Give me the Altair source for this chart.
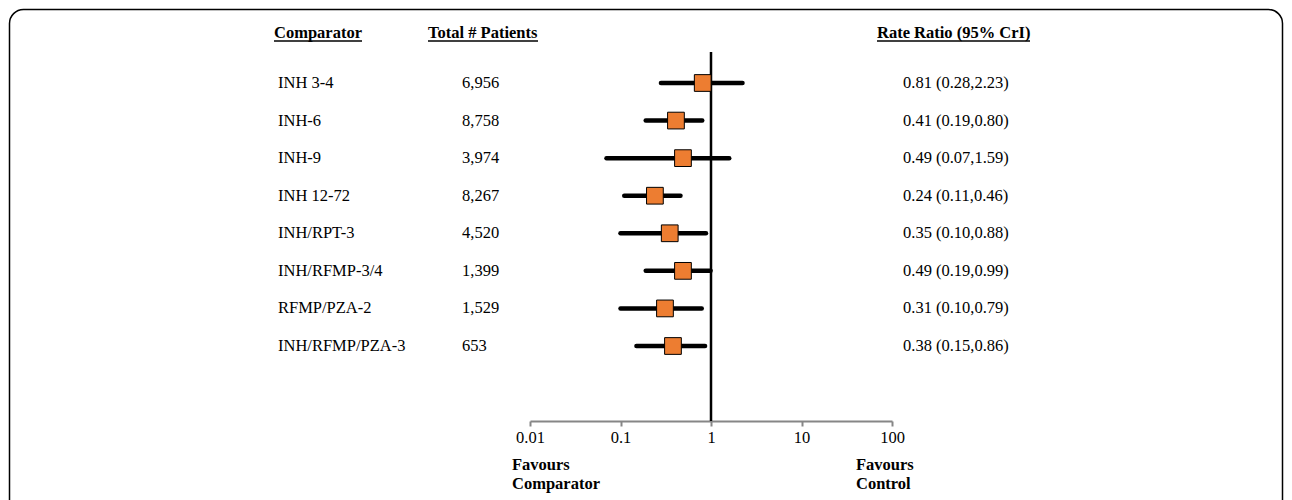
import altair as alt
import pandas as pd

comparators = ["INH 3-4", "INH-6", "INH-9", "INH 12-72", "INH/RPT-3",
               "INH/RFMP-3/4", "RFMP/PZA-2", "INH/RFMP/PZA-3"]
patients = ["6,956", "8,758", "3,974", "8,267", "4,520", "1,399", "1,529", "653"]
rate_ratio = [0.81, 0.41, 0.49, 0.24, 0.35, 0.49, 0.31, 0.38]
cri_low = [0.28, 0.19, 0.07, 0.11, 0.10, 0.19, 0.10, 0.15]
cri_high = [2.23, 0.80, 1.59, 0.46, 0.88, 0.99, 0.79, 0.86]
x_ticks = [0.01, 0.1, 1, 10, 100]

df = pd.DataFrame({
    "comparator": comparators,
    "patients": patients,
    "rr": rate_ratio,
    "lo": cri_low,
    "hi": cri_high,
})
df["label"] = [f"{r:.2f} ({l:.2f},{h:.2f})" for r, l, h in zip(rate_ratio, cri_low, cri_high)]

FONT = "Liberation Serif"
FS = 16.5

xscale = alt.Scale(type="log", domain=[0.01, 100], range=[522, 884])
yenc = alt.Y("comparator:N", sort=comparators,
             scale=alt.Scale(type="point", domain=comparators, range=[75, 338], padding=0),
             axis=None)

base = alt.Chart(df)

ci = base.mark_rule(color="black", strokeWidth=4.5, strokeCap="round").encode(
    x=alt.X("lo:Q", scale=xscale,
            axis=alt.Axis(values=x_ticks, format="~g", title=None, grid=False,
                          offset=-79, domainColor="#868686", domainWidth=2,
                          tickColor="#868686", tickWidth=2, tickSize=5,
                          labelFont=FONT, labelFontSize=FS, labelColor="black",
                          labelPadding=3, labelFlush=False)),
    x2="hi:Q",
    y=yenc,
)

null_line = alt.Chart(pd.DataFrame({"v": [1]})).mark_rule(color="black", strokeWidth=2.5).encode(
    x=alt.X("v:Q", scale=xscale),
    y=alt.value(44),
    y2=alt.value(413),
)

squares = base.mark_square(size=280, color="#ED7D31", opacity=1, stroke="black",
                           strokeWidth=1).encode(
    x=alt.X("rr:Q", scale=xscale),
    y=yenc,
)

txt_kw = dict(font=FONT, fontSize=FS, align="left", baseline="middle", color="black")
names = base.mark_text(**txt_kw).encode(x=alt.value(270), y=yenc, text="comparator:N")
pats = base.mark_text(**txt_kw).encode(x=alt.value(454), y=yenc, text="patients:N")
rates = base.mark_text(**txt_kw).encode(x=alt.value(895), y=yenc, text="label:N")

headers = [("Comparator", 266, 354), ("Total # Patients", 420, 530), ("Rate Ratio (95% CrI)", 869, 1022)]
one = pd.DataFrame({"k": [0]})
header_layers = []
for text, x0, x1 in headers:
    header_layers.append(
        alt.Chart(one).mark_text(font=FONT, fontSize=FS, fontWeight="bold", align="left",
                                 baseline="alphabetic", color="black", text=text)
        .encode(x=alt.value(x0), y=alt.value(30))
    )
    header_layers.append(
        alt.Chart(one).mark_rule(color="black", strokeWidth=1.5)
        .encode(x=alt.value(x0), x2=alt.value(x1), y=alt.value(33))
    )

favours = []
for text, x0 in [("Favours\nComparator", 504), ("Favours\nControl", 848)]:
    favours.append(
        alt.Chart(one).mark_text(font=FONT, fontSize=FS, fontWeight="bold", align="left",
                                 baseline="middle", color="black", text=text,
                                 lineBreak="\n", lineHeight=19)
        .encode(x=alt.value(x0), y=alt.value(457))
    )

frame = alt.Chart(one).mark_rect(fill="white", fillOpacity=0, stroke="black",
                                 strokeWidth=1.5, cornerRadius=14).encode(
    x=alt.value(1.5), x2=alt.value(1274.5), y=alt.value(1.5), y2=alt.value(600)
)

chart = alt.layer(frame, null_line, ci, squares, names, pats, rates,
                  *header_layers, *favours).properties(
    width=1276, height=492, padding=0,
    autosize=alt.AutoSizeParams(type="none"),
).configure_view(strokeWidth=0)

chart.save("out.html", embed_options={"renderer": "svg", "actions": False})
